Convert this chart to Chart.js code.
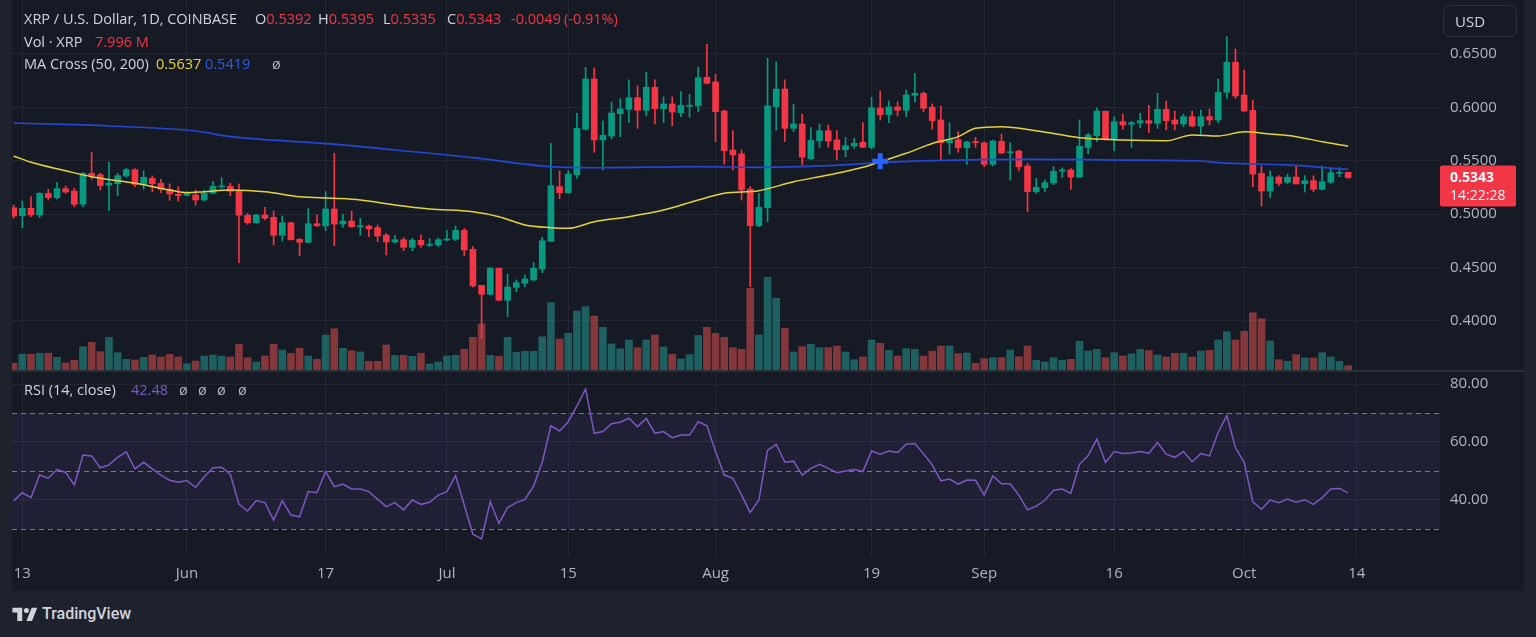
<!DOCTYPE html>
<html>
<head>
<meta charset="utf-8">
<script src="https://cdn.jsdelivr.net/npm/chart.js@4.4.1/dist/chart.umd.min.js"></script>
<style>
  html, body { margin: 0; padding: 0; width: 1536px; height: 637px; overflow: hidden; background: #1e222d; font-family: "Open Sans", "Noto Sans", sans-serif; }
  #frame { position: absolute; left: 12px; top: 0; width: 1512px; height: 591px; background: #161a25; }
  #main { position: absolute; left: 0; top: 0; }
  #rsi { position: absolute; left: 0; top: 372px; }
  .sep { position: absolute; left: 0; top: 370px; width: 1512px; height: 2px; background: #2a2e39; }
  .lg { position: absolute; color: #d1d4dc; font-size: 14.5px; white-space: nowrap; line-height: 18px; }
  .red { color: #f23645; }
  .yel { color: #e6d33c; }
  .blu { color: #2f5be0; }
  .pur { color: #7e57c2; }
  .gray { color: #b2b5be; }
  #usd { position: absolute; left: 1431px; top: 5px; width: 72px; height: 30px; border: 1px solid #2a2e39; border-radius: 6px; color: #d1d4dc; font-size: 15px; line-height: 30px; text-indent: 11px; }
  #brand { position: absolute; left: 12px; top: 604px; color: #d1d4dc; font-size: 16px; font-weight: 500; display: flex; align-items: center; gap: 4px; font-family: Roboto, sans-serif; }
</style>
</head>
<body>
<div id="frame">
  <canvas id="main" width="1512" height="370"></canvas>
  <div class="sep"></div>
  <canvas id="rsi" width="1512" height="219"></canvas>

  <!-- legend rows, x positions are frame coordinates (page x - 12) -->
  <div class="lg" style="top:10px;left:12px">XRP / U.S. Dollar, 1D, COINBASE</div>
  <div class="lg" style="top:10px;left:243px">O<span class="red">0.5392</span></div>
  <div class="lg" style="top:10px;left:306px">H<span class="red">0.5395</span></div>
  <div class="lg" style="top:10px;left:371px">L<span class="red">0.5335</span></div>
  <div class="lg" style="top:10px;left:435px">C<span class="red">0.5343</span></div>
  <div class="lg red" style="top:10px;left:499px">-0.0049</div>
  <div class="lg red" style="top:10px;left:552px">(-0.91%)</div>

  <div class="lg" style="top:33px;left:12px">Vol · XRP</div>
  <div class="lg red" style="top:33px;left:83px">7.996 M</div>

  <div class="lg" style="top:55px;left:12px">MA Cross (50, 200)</div>
  <div class="lg yel" style="top:55px;left:144px">0.5637</div>
  <div class="lg blu" style="top:55px;left:193px">0.5419</div>
  <div class="lg gray" style="top:55px;left:260px">ø</div>

  <div class="lg" style="top:381px;left:12px">RSI (14, close)</div>
  <div class="lg pur" style="top:381px;left:119px">42.48</div>
  <div class="lg gray" style="top:381px;left:167px">ø</div>
  <div class="lg gray" style="top:381px;left:186px">ø</div>
  <div class="lg gray" style="top:381px;left:205px">ø</div>
  <div class="lg gray" style="top:381px;left:226px">ø</div>

  <div id="usd">USD</div>
</div>
<div id="brand">
  <svg width="26" height="14" viewBox="0 0 36 20"><path d="M14 20H7V8H0V1h14v19z M28 20h-8l7.5-19h8L28 20z" fill="#d1d4dc"/><circle cx="20" cy="5" r="3.6" fill="#d1d4dc"/></svg>
  <span>TradingView</span>
</div>

<script>
// day index 0 = 13 May 2024, first visible candle is 12 May (-1), last is 13 Oct (153)
const firstIdx = -1;

const opens = [0.5061,0.4986,0.5055,0.4993,0.5196,0.5155,0.5239,0.5217,0.5093,0.5383,0.5370,0.5271,0.5286,0.5358,0.5417,0.5280,0.5336,0.5289,0.5233,0.5186,0.5177,0.5180,0.5133,0.5196,0.5255,0.5261,0.5214,0.4990,0.4920,0.4993,0.4971,0.4803,0.4920,0.4765,0.4737,0.4911,0.4892,0.5049,0.4908,0.4936,0.4883,0.4889,0.4874,0.4803,0.4740,0.4761,0.4690,0.4756,0.4709,0.4714,0.4758,0.4765,0.4849,0.4671,0.4334,0.4250,0.4493,0.4194,0.4315,0.4353,0.4384,0.4487,0.4746,0.5258,0.5201,0.5370,0.5795,0.6266,0.5695,0.5732,0.5941,0.5982,0.6091,0.5973,0.6188,0.5988,0.6032,0.5950,0.6010,0.6016,0.6282,0.6238,0.5966,0.5601,0.5564,0.5236,0.4892,0.5061,0.6007,0.6172,0.5804,0.5845,0.5520,0.5688,0.5782,0.5695,0.5604,0.5639,0.5673,0.5626,0.5994,0.5932,0.6004,0.5973,0.6113,0.6132,0.6001,0.5882,0.5670,0.5698,0.5623,0.5679,0.5667,0.5467,0.5683,0.5576,0.5592,0.5451,0.5211,0.5248,0.5292,0.5402,0.5414,0.5346,0.5626,0.5735,0.5963,0.5701,0.5866,0.5842,0.5854,0.5876,0.5851,0.5982,0.5882,0.5845,0.5913,0.5826,0.5913,0.5882,0.6141,0.6422,0.6116,0.5973,0.5383,0.5217,0.5348,0.5299,0.5348,0.5286,0.5314,0.5233,0.5299,0.5383,0.5392];
const highs = [0.5086,0.5124,0.5164,0.5201,0.5233,0.5299,0.5264,0.5243,0.5389,0.5580,0.5383,0.5489,0.5383,0.5430,0.5426,0.5407,0.5358,0.5327,0.5283,0.5258,0.5211,0.5227,0.5227,0.5308,0.5342,0.5289,0.5283,0.5009,0.4999,0.5065,0.5030,0.4983,0.4927,0.4774,0.5052,0.4993,0.5211,0.5570,0.5002,0.5030,0.4962,0.4899,0.4899,0.4821,0.4803,0.4780,0.4774,0.4808,0.4771,0.4777,0.4849,0.4890,0.4868,0.4696,0.4334,0.4503,0.4496,0.4437,0.4384,0.4431,0.4546,0.4784,0.5664,0.5405,0.5407,0.5945,0.6375,0.6369,0.5875,0.6051,0.6082,0.6257,0.6203,0.6329,0.6257,0.6100,0.6100,0.6147,0.6123,0.6375,0.6591,0.6310,0.5976,0.5782,0.5601,0.5258,0.5196,0.6460,0.6425,0.6257,0.6029,0.5938,0.5810,0.5845,0.5835,0.5782,0.5720,0.5711,0.5857,0.6095,0.6156,0.6060,0.6051,0.6163,0.6319,0.6147,0.6032,0.6013,0.5857,0.5773,0.5685,0.5720,0.5679,0.5695,0.5751,0.5670,0.5601,0.5477,0.5336,0.5320,0.5445,0.5433,0.5426,0.5882,0.5758,0.5994,0.5966,0.5913,0.5938,0.5870,0.5945,0.6020,0.6132,0.6060,0.5966,0.5935,0.5966,0.5976,0.5985,0.6266,0.6662,0.6547,0.6350,0.6069,0.5451,0.5405,0.5361,0.5376,0.5458,0.5361,0.5358,0.5451,0.5430,0.5436,0.5395];
const lows = [0.4962,0.4874,0.4977,0.4967,0.5133,0.5140,0.5196,0.5070,0.5070,0.5327,0.5227,0.5033,0.5173,0.5346,0.5258,0.5233,0.5211,0.5201,0.5130,0.5124,0.5170,0.5083,0.5124,0.5189,0.5243,0.5173,0.4546,0.4905,0.4915,0.4946,0.4712,0.4749,0.4758,0.4612,0.4730,0.4883,0.4846,0.4705,0.4877,0.4877,0.4803,0.4789,0.4743,0.4618,0.4728,0.4658,0.4658,0.4690,0.4696,0.4696,0.4749,0.4752,0.4612,0.4316,0.3838,0.4243,0.4187,0.4040,0.4274,0.4321,0.4375,0.4452,0.4746,0.5145,0.5196,0.5336,0.5788,0.5580,0.5414,0.5704,0.5726,0.5857,0.5804,0.5920,0.5845,0.5857,0.5829,0.5913,0.5907,0.5960,0.6219,0.5679,0.5467,0.5414,0.5133,0.4321,0.4883,0.4930,0.5788,0.5679,0.5773,0.5461,0.5514,0.5626,0.5626,0.5508,0.5538,0.5617,0.5626,0.5611,0.5882,0.5857,0.5920,0.5913,0.6051,0.5960,0.5795,0.5508,0.5564,0.5580,0.5467,0.5626,0.5445,0.5451,0.5564,0.5320,0.5405,0.5024,0.5196,0.5211,0.5276,0.5346,0.5233,0.5346,0.5564,0.5679,0.5695,0.5595,0.5795,0.5626,0.5810,0.5763,0.5804,0.5788,0.5788,0.5819,0.5819,0.5742,0.5835,0.5857,0.6085,0.6085,0.5960,0.5258,0.5077,0.5158,0.5267,0.5283,0.5283,0.5208,0.5211,0.5227,0.5289,0.5351,0.5335];
const closes = [0.4983,0.5055,0.4993,0.5196,0.5155,0.5239,0.5208,0.5093,0.5383,0.5361,0.5267,0.5292,0.5361,0.5417,0.5280,0.5346,0.5286,0.5233,0.5189,0.5173,0.5189,0.5133,0.5196,0.5261,0.5264,0.5214,0.4990,0.4920,0.4993,0.4962,0.4803,0.4920,0.4761,0.4737,0.4911,0.4892,0.5049,0.4908,0.4936,0.4883,0.4889,0.4864,0.4796,0.4740,0.4761,0.4690,0.4756,0.4712,0.4718,0.4761,0.4765,0.4849,0.4665,0.4328,0.4250,0.4493,0.4194,0.4318,0.4359,0.4393,0.4493,0.4752,0.5267,0.5201,0.5376,0.5804,0.6266,0.5695,0.5739,0.5948,0.5985,0.6091,0.5973,0.6188,0.5988,0.6032,0.5957,0.6020,0.6020,0.6278,0.6226,0.5960,0.5595,0.5554,0.5227,0.4892,0.5065,0.6013,0.6172,0.5804,0.5845,0.5533,0.5692,0.5782,0.5685,0.5604,0.5641,0.5664,0.5626,0.5997,0.5932,0.6004,0.5973,0.6116,0.6132,0.5992,0.5876,0.5670,0.5701,0.5623,0.5676,0.5670,0.5467,0.5685,0.5573,0.5585,0.5445,0.5211,0.5252,0.5295,0.5402,0.5414,0.5348,0.5636,0.5742,0.5966,0.5701,0.5866,0.5835,0.5857,0.5876,0.5851,0.5982,0.5876,0.5845,0.5913,0.5826,0.5913,0.5882,0.6141,0.6422,0.6107,0.5966,0.5376,0.5217,0.5351,0.5289,0.5346,0.5283,0.5314,0.5233,0.5304,0.5389,0.5392,0.5343];
// volume in millions of XRP
const volumes = [12.5,29.2,29.2,31.1,31.1,23.6,13.0,18.0,43.3,51.5,34.0,60.8,32.2,19.9,18.6,23.6,27.9,24.2,29.2,24.2,11.7,16.7,26.0,27.9,26.0,24.2,47.8,22.9,14.9,26.0,47.8,37.2,31.1,40.4,26.0,19.9,65.1,76.8,40.4,35.9,33.5,16.2,16.2,46.5,27.3,27.3,25.5,31.1,11.2,14.9,26.0,27.3,38.5,60.8,85.6,27.3,25.5,60.8,32.9,34.8,34.8,61.9,125.2,57.7,68.3,109.7,117.7,100.4,79.4,48.4,39.6,55.8,41.5,55.8,65.1,42.8,29.2,20.5,28.5,64.2,79.4,68.3,60.8,41.5,38.5,152.0,65.1,172.4,133.4,77.6,33.5,43.3,47.8,41.5,41.5,44.6,33.5,19.2,24.2,55.8,49.7,36.6,26.0,39.6,38.5,26.0,35.3,44.6,44.6,30.3,31.6,12.5,21.0,22.9,22.9,37.2,24.7,44.6,18.0,14.9,22.9,18.0,19.9,53.4,35.3,38.5,22.9,32.2,26.0,30.3,38.5,36.3,27.9,24.2,31.1,31.1,24.2,35.3,36.6,55.8,71.2,55.8,72.0,106.6,95.4,53.9,19.2,16.2,28.5,22.3,22.3,32.2,24.2,16.2,8.0];
const rsi = [39.7,42.5,40.8,48.6,47.5,50.5,49.5,45.2,55.5,55.2,51.1,52.1,54.7,56.6,50.7,53.0,50.7,48.6,46.8,46.1,46.7,44.4,48.0,51.1,51.3,48.9,38.6,36.2,39.8,39.1,33.1,39.8,34.8,34.2,42.9,42.5,49.8,44.6,45.5,43.8,43.8,42.9,40.2,37.7,39.1,36.6,40.0,38.5,39.2,41.7,42.9,48.4,38.3,28.2,26.6,39.4,32.0,37.4,39.1,40.2,44.8,53.0,65.6,63.8,67.0,72.4,78.3,63.0,63.6,66.3,66.8,68.2,65.3,68.1,63.0,63.6,61.5,62.4,62.4,67.0,65.6,56.7,48.6,47.5,41.7,35.7,40.0,57.1,59.2,53.0,53.4,48.6,50.9,52.3,50.9,49.4,50.0,50.5,49.8,56.9,55.8,56.9,56.4,59.2,59.5,55.9,52.1,46.6,47.2,45.5,46.9,46.8,41.7,48.3,45.6,45.6,41.7,36.6,37.9,39.9,43.4,43.8,42.3,52.3,55.3,61.0,52.9,56.7,56.0,56.2,56.7,56.1,59.8,55.8,54.7,56.7,53.2,56.0,55.2,63.3,69.1,58.0,53.0,39.4,36.8,40.0,39.1,40.3,39.2,40.1,38.5,40.8,43.8,44.0,42.48];

const ma50Idx = [-1,1,5,8,13,17,19,21,24,28,32,36,39,43,47,52,55,58,61,63,66,70,74,78,81,85,89,93,97,99,102,105,108,110,113,117,122,127,132,135,138,141,144,147,150,153];
const ma50 = [0.5545,0.5486,0.5407,0.5351,0.5289,0.5227,0.5201,0.5211,0.5227,0.5211,0.5164,0.5149,0.5133,0.5086,0.5049,0.5024,0.4977,0.4899,0.4874,0.4868,0.4930,0.4977,0.5039,0.5133,0.5196,0.5220,0.5304,0.5367,0.5439,0.5492,0.5570,0.5662,0.5726,0.5804,0.5819,0.5782,0.5716,0.5695,0.5688,0.5742,0.5732,0.5772,0.5751,0.5726,0.5679,0.5637];
const ma200Idx = [-1,10,20,24,36,43,52,60,66,78,85,93,99,105,116,127,136,138,146,153];
const ma200 = [0.5854,0.5826,0.5779,0.5726,0.5657,0.5601,0.5529,0.5451,0.5435,0.5445,0.5439,0.5454,0.5482,0.5501,0.5514,0.5507,0.5498,0.5482,0.5461,0.5419];
const crossIdx = [99];
const crossVal = [0.5495];

const xTickIdx = [0, 19, 35, 49, 63, 80, 98, 111, 126, 141, 154];
const xTickLabels = ['13', 'Jun', '17', 'Jul', '15', 'Aug', '19', 'Sep', '16', 'Oct', '14'];
const priceTicks = [0.40, 0.45, 0.50, 0.55, 0.60, 0.65];
const rsiTicks = [40, 60, 80];
const rsiLevels = [70, 50, 30];
const countdown = '14:22:28';

const xMin = -1.19, xMax = 163.6;
const priceMin = 0.35412, priceMax = 0.70056;
const volMax = 688;
const rsiMin = 21.03, rsiMax = 83.45;

const upColor = '#089981', downColor = '#f23645';
const gridColor = '#222633';
const textColor = '#b2b5be';
const family = '"Open Sans", "Noto Sans", sans-serif';

Chart.defaults.font.family = family;
Chart.defaults.animation = false;

const idx = closes.map((_, k) => firstIdx + k);
const isUp = closes.map((c, k) => c >= opens[k]);
const candleColors = isUp.map(u => u ? upColor : downColor);
const volColors = isUp.map(u => u ? 'rgba(38,166,154,0.5)' : 'rgba(239,83,80,0.5)');

const lastPriceTag = {
    id: 'lastPriceTag',
    afterDraw(chart) {
        const { ctx, chartArea, scales } = chart;
        const last = closes[closes.length - 1];
        const y = scales.y.getPixelForValue(last);
        ctx.save();
        ctx.fillStyle = downColor;
        ctx.beginPath();
        ctx.roundRect(chartArea.right, y - 12, 76, 41, 2);
        ctx.fill();
        ctx.fillStyle = '#ffffff';
        ctx.textBaseline = 'middle';
        ctx.font = 'bold 14px ' + family;
        ctx.fillText(last.toFixed(4), chartArea.right + 10, y);
        ctx.font = '14px ' + family;
        ctx.fillText(countdown, chartArea.right + 10, y + 18);
        ctx.restore();
    }
};

const rsiBand = {
    id: 'rsiBand',
    beforeDatasetsDraw(chart) {
        const { ctx, chartArea, scales } = chart;
        const top = scales.y.getPixelForValue(rsiLevels[0]);
        const bottom = scales.y.getPixelForValue(rsiLevels[rsiLevels.length - 1]);
        ctx.save();
        ctx.fillStyle = 'rgba(126,87,194,0.1)';
        ctx.fillRect(chartArea.left, top, chartArea.right - chartArea.left, bottom - top);
        ctx.strokeStyle = '#787b86';
        ctx.lineWidth = 1;
        ctx.setLineDash([5, 4]);
        rsiLevels.forEach(v => {
            const y = Math.round(scales.y.getPixelForValue(v)) + 0.5;
            ctx.beginPath();
            ctx.moveTo(chartArea.left, y);
            ctx.lineTo(chartArea.right, y);
            ctx.stroke();
        });
        ctx.restore();
    }
};

function xScale(showLabels) {
    return {
        type: 'linear', min: xMin, max: xMax, offset: false,
        grid: { color: gridColor, drawTicks: false, offset: false },
        border: { display: false },
        ticks: {
            display: showLabels, color: textColor, font: { size: 15 }, padding: 10,
            maxRotation: 0, autoSkip: false,
            callback: v => xTickLabels[xTickIdx.indexOf(v)]
        },
        afterBuildTicks: s => { s.ticks = xTickIdx.map(v => ({ value: v })); },
        afterFit: s => { s.height = showLabels ? 36 : 0; s.paddingLeft = 0; s.paddingRight = 0; }
    };
}

function yScale(min, max, ticks, digits) {
    return {
        position: 'right', min, max,
        grid: { color: gridColor, drawTicks: true, tickLength: 10, tickColor: 'rgba(0,0,0,0)' },
        border: { display: false },
        ticks: { color: textColor, font: { size: 15 }, padding: 0, callback: v => v.toFixed(digits) },
        afterBuildTicks: s => { s.ticks = ticks.map(v => ({ value: v })); },
        afterFit: s => { s.width = 84; s.paddingTop = 0; s.paddingBottom = 0; }
    };
}

new Chart(document.getElementById('main'), {
    type: 'bar',
    data: {
        datasets: [
            {
                type: 'line', label: 'Cross', data: crossIdx.map((x, k) => ({ x, y: crossVal[k] })),
                showLine: false, pointStyle: 'cross', pointRadius: 8, pointBorderWidth: 5,
                borderColor: '#2962ff', backgroundColor: '#2962ff', order: -1
            },
            {
                type: 'line', label: 'MA 50', data: ma50Idx.map((x, k) => ({ x, y: ma50[k] })),
                borderColor: '#e6d33c', borderWidth: 1.5, pointRadius: 0, cubicInterpolationMode: 'monotone', order: 0
            },
            {
                type: 'line', label: 'MA 200', data: ma200Idx.map((x, k) => ({ x, y: ma200[k] })),
                borderColor: '#2447d4', borderWidth: 1.7, pointRadius: 0, cubicInterpolationMode: 'monotone', order: 0
            },
            {
                label: 'Body', data: idx.map((x, k) => ({ x, y: [opens[k], closes[k]] })),
                backgroundColor: candleColors, barThickness: 6, minBarLength: 1, grouped: false, order: 1
            },
            {
                label: 'Wick', data: idx.map((x, k) => ({ x, y: [lows[k], highs[k]] })),
                backgroundColor: candleColors, barThickness: 1, grouped: false, order: 2
            },
            {
                label: 'Volume', yAxisID: 'vol', data: idx.map((x, k) => ({ x, y: volumes[k] })),
                backgroundColor: volColors, barThickness: 7, grouped: false, order: 5
            }
        ]
    },
    options: {
        responsive: false,
        devicePixelRatio: 1,
        layout: { padding: 0, autoPadding: false },
        plugins: { legend: { display: false }, tooltip: { enabled: false } },
        scales: {
            x: xScale(false),
            y: yScale(priceMin, priceMax, priceTicks, 4),
            vol: { axis: 'y', position: 'left', display: false, min: 0, max: volMax }
        }
    },
    plugins: [lastPriceTag]
});

new Chart(document.getElementById('rsi'), {
    type: 'line',
    data: {
        datasets: [{
            label: 'RSI', data: idx.map((x, k) => ({ x, y: rsi[k] })),
            borderColor: '#7e57c2', borderWidth: 1.5, pointRadius: 0, tension: 0
        }]
    },
    options: {
        responsive: false,
        devicePixelRatio: 1,
        layout: { padding: { top: 2 }, autoPadding: false },
        plugins: { legend: { display: false }, tooltip: { enabled: false } },
        scales: {
            x: xScale(true),
            y: yScale(rsiMin, rsiMax, rsiTicks, 2)
        }
    },
    plugins: [rsiBand]
});
</script>
</body>
</html>
